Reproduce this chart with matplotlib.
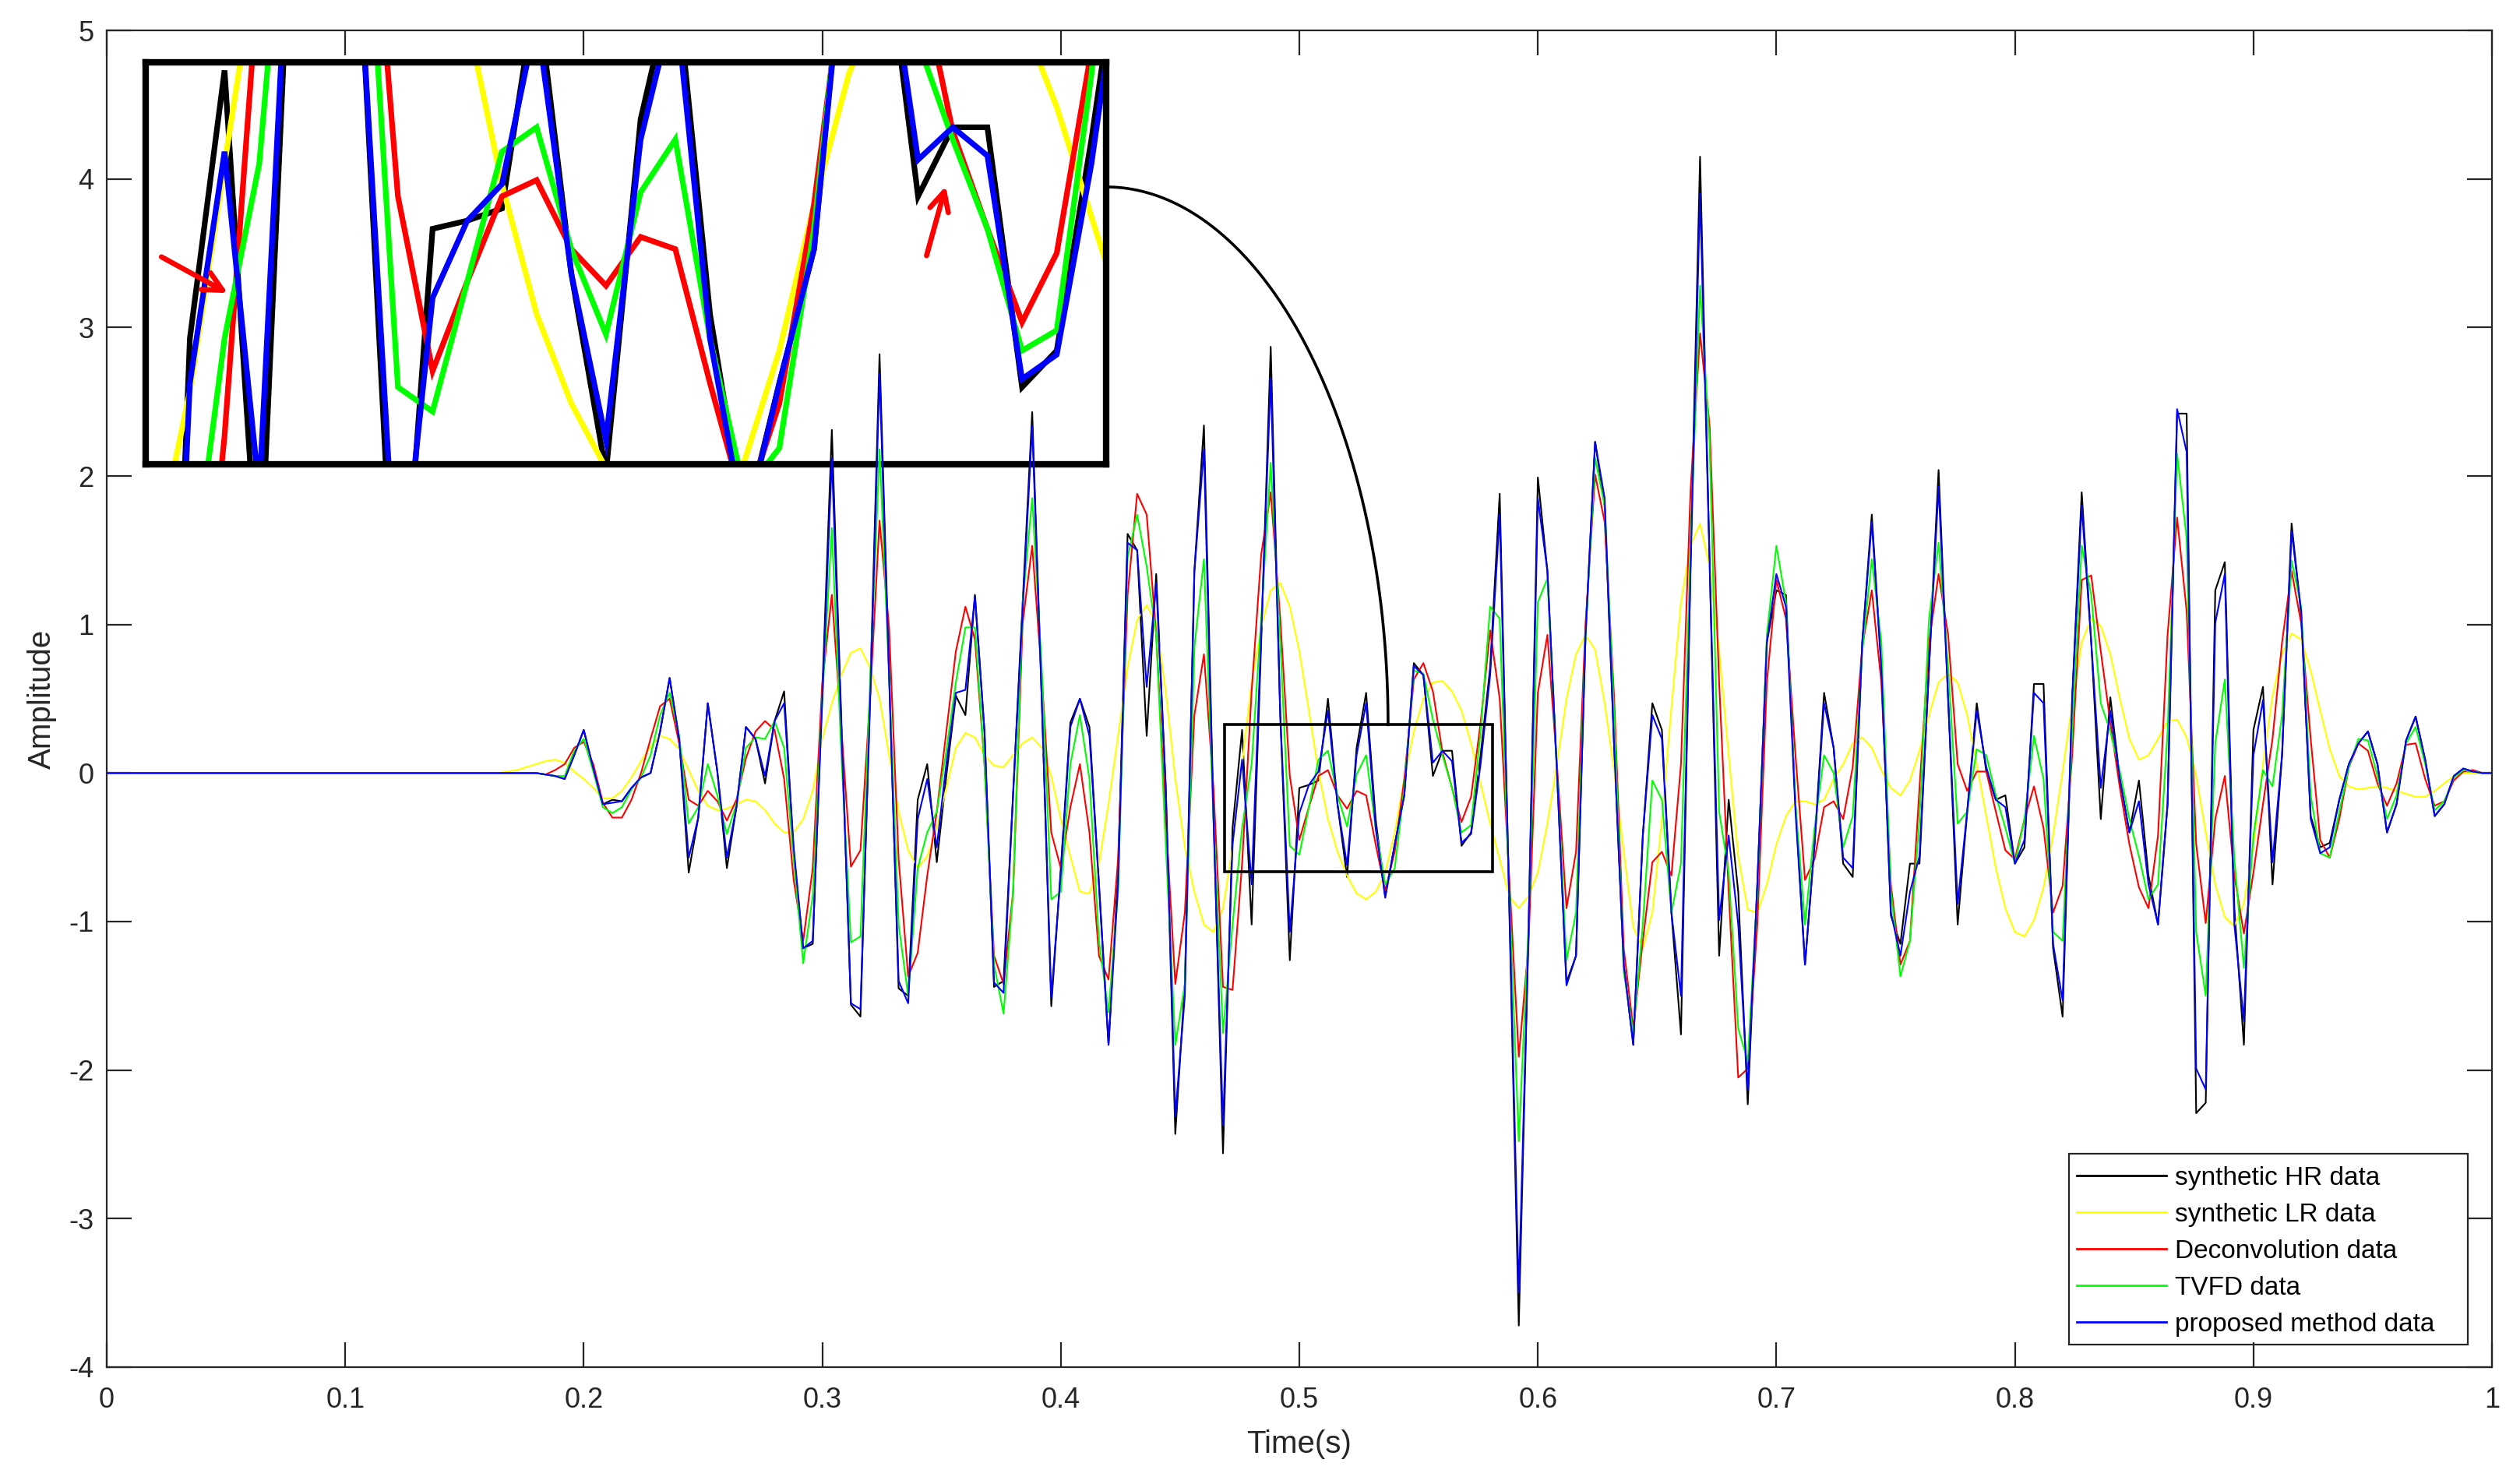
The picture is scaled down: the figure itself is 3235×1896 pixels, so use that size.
import numpy as np
import matplotlib
matplotlib.use("Agg")
import matplotlib.pyplot as plt
from matplotlib.patches import Rectangle

plt.rcParams['font.family'] = ['Liberation Sans', 'DejaVu Sans']
plt.rcParams['axes.unicode_minus'] = False

# ---------------- data ----------------
dt = 0.004          # sample interval (s)
onset = 41          # samples 0..40 are flat zero in every trace
lead_zeros = [0.0] * onset

hr_data = [
    0, 0, 0, 0, 0, -0.01, -0.02, -0.04, 0.12, 0.29,
    0.03, -0.21, -0.18, -0.19, -0.10, -0.03, 0.00, 0.28, 0.64, 0.23,
    -0.67, -0.30, 0.47, 0.01, -0.64, -0.23, 0.31, 0.23, -0.07, 0.35,
    0.55, -0.53, -1.18, -1.15, 0.55, 2.31, 0.35, -1.56, -1.64, 0.50,
    2.82, 0.69, -1.45, -1.50, -0.18, 0.06, -0.60, -0.02, 0.52, 0.39,
    1.20, 0.28, -1.44, -1.40, -0.14, 1.15, 2.43, 0.50, -1.57, -0.64,
    0.34, 0.50, 0.31, -0.75, -1.83, -0.67, 1.61, 1.50, 0.25, 1.34,
    -0.10, -2.43, -1.42, 1.36, 2.34, -0.26, -2.56, -0.37, 0.29, -1.02,
    0.88, 2.87, 0.39, -1.26, -0.10, -0.08, -0.05, 0.50, -0.21, -0.70,
    0.17, 0.54, -0.31, -0.83, -0.48, -0.15, 0.74, 0.66, -0.02, 0.15,
    0.15, -0.49, -0.40, 0.12, 0.71, 1.88, -0.90, -3.72, -1.13, 1.99,
    1.36, 0.01, -1.41, -1.23, 0.93, 2.23, 1.80, 0.17, -1.29, -1.83,
    -0.42, 0.47, 0.29, -0.94, -1.76, 1.40, 4.15, 1.42, -1.23, -0.18,
    -0.80, -2.23, -0.75, 0.88, 1.23, 1.20, -0.21, -1.29, -0.48, 0.54,
    0.17, -0.61, -0.70, 0.88, 1.74, 0.71, -0.96, -1.15, -0.61, -0.61,
    0.71, 2.04, 0.50, -1.02, -0.26, 0.47, 0.01, -0.18, -0.15, -0.61,
    -0.50, 0.60, 0.60, -1.18, -1.64, 0.50, 1.89, 0.88, -0.31, 0.51,
    -0.04, -0.40, -0.05, -0.69, -1.02, -0.21, 2.42, 2.42, -2.29, -2.22,
    1.23, 1.42, -0.91, -1.83, 0.29, 0.58, -0.75, 0.12, 1.68, 1.07,
    -0.29, -0.50, -0.47, -0.18, 0.06, 0.20, 0.28, 0.06, -0.40, -0.21,
    0.22, 0.38, 0.09, -0.29, -0.21, -0.02, 0.03, 0.01, 0.00, 0.00,
]

lr_data = [
    0.00, 0.01, 0.02, 0.04, 0.06, 0.08, 0.09, 0.07, 0.01, -0.04,
    -0.10, -0.17, -0.17, -0.12, -0.03, 0.08, 0.18, 0.25, 0.23, 0.16,
    0.02, -0.12, -0.22, -0.25, -0.24, -0.21, -0.18, -0.19, -0.25, -0.34,
    -0.40, -0.40, -0.31, -0.12, 0.23, 0.47, 0.66, 0.81, 0.84, 0.71,
    0.50, 0.12, -0.26, -0.52, -0.64, -0.56, -0.37, -0.10, 0.17, 0.27,
    0.24, 0.12, 0.05, 0.04, 0.12, 0.20, 0.24, 0.17, -0.02, -0.31,
    -0.56, -0.80, -0.81, -0.61, -0.21, 0.25, 0.71, 1.03, 1.13, 1.01,
    0.55, -0.04, -0.50, -0.80, -1.02, -1.07, -0.91, -0.50, 0.06, 0.61,
    0.98, 1.23, 1.28, 1.12, 0.82, 0.42, 0.01, -0.31, -0.53, -0.69,
    -0.81, -0.85, -0.80, -0.67, -0.40, -0.04, 0.28, 0.50, 0.61, 0.62,
    0.55, 0.42, 0.20, -0.07, -0.34, -0.58, -0.83, -0.91, -0.83, -0.67,
    -0.34, 0.06, 0.50, 0.80, 0.93, 0.83, 0.47, 0.01, -0.53, -1.04,
    -1.18, -0.94, -0.31, 0.44, 1.15, 1.53, 1.68, 1.39, 0.82, 0.12,
    -0.56, -0.92, -0.94, -0.75, -0.48, -0.29, -0.19, -0.19, -0.21, -0.18,
    -0.04, 0.06, 0.20, 0.24, 0.17, 0.02, -0.10, -0.15, -0.05, 0.15,
    0.39, 0.61, 0.67, 0.61, 0.39, 0.06, -0.29, -0.64, -0.91, -1.07,
    -1.10, -0.99, -0.77, -0.42, 0.01, 0.47, 0.88, 1.04, 0.99, 0.80,
    0.50, 0.23, 0.09, 0.12, 0.23, 0.35, 0.36, 0.24, -0.02, -0.40,
    -0.75, -0.97, -1.03, -0.88, -0.48, 0.06, 0.52, 0.80, 0.94, 0.90,
    0.69, 0.42, 0.16, -0.02, -0.09, -0.11, -0.10, -0.09, -0.10, -0.12,
    -0.14, -0.16, -0.16, -0.12, -0.07, -0.02, 0.00, 0.00, 0.00, 0.00,
]

deconv_data = [
    0, 0, 0, 0, 0, -0.01, 0.02, 0.06, 0.17, 0.21,
    0.06, -0.20, -0.30, -0.30, -0.18, 0.00, 0.23, 0.45, 0.50, 0.20,
    -0.18, -0.22, -0.12, -0.19, -0.32, -0.18, 0.10, 0.28, 0.35, 0.29,
    -0.04, -0.72, -1.13, -0.64, 0.61, 1.20, 0.30, -0.63, -0.52, 0.50,
    1.70, 0.98, -0.58, -1.37, -1.21, -0.69, -0.26, 0.28, 0.82, 1.12,
    0.90, 0.06, -1.23, -1.42, -0.80, 1.01, 1.53, 0.66, -0.40, -0.64,
    -0.23, 0.06, -0.40, -1.23, -1.39, -0.58, 1.20, 1.88, 1.74, 0.93,
    -0.31, -1.42, -0.94, 0.39, 0.80, -0.10, -1.44, -1.46, -0.61, 0.55,
    1.47, 1.89, 1.04, -0.02, -0.45, -0.23, -0.02, 0.02, -0.15, -0.24,
    -0.12, -0.15, -0.48, -0.79, -0.53, -0.04, 0.63, 0.74, 0.55, 0.14,
    -0.10, -0.33, -0.16, 0.34, 0.96, 0.50, -0.70, -1.91, -1.18, 0.54,
    0.93, 0.06, -0.91, -0.53, 1.01, 2.01, 1.69, 0.50, -1.18, -1.72,
    -1.13, -0.60, -0.53, -0.69, 0.06, 1.90, 2.96, 2.34, 0.61, -0.80,
    -2.05, -1.99, -1.02, 0.61, 1.30, 1.04, 0.12, -0.72, -0.58, -0.23,
    -0.19, -0.31, 0.04, 0.85, 1.23, 0.61, -0.75, -1.29, -1.13, -0.10,
    0.88, 1.34, 0.93, 0.06, -0.12, 0.01, 0.01, -0.26, -0.52, -0.58,
    -0.31, -0.09, -0.37, -0.94, -0.76, 0.12, 1.30, 1.33, 0.82, 0.34,
    -0.10, -0.48, -0.77, -0.91, -0.42, 0.93, 1.72, 1.09, -0.48, -1.01,
    -0.31, -0.02, -0.69, -1.08, -0.67, -0.21, 0.23, 0.88, 1.36, 1.01,
    0.23, -0.45, -0.57, -0.31, 0.04, 0.20, 0.15, -0.07, -0.22, -0.07,
    0.19, 0.20, -0.04, -0.22, -0.19, -0.05, 0.01, 0.02, 0.00, 0.00,
]

tvfd_data = [
    0, 0, 0, 0, 0, -0.01, -0.02, -0.02, 0.15, 0.23,
    0.01, -0.23, -0.27, -0.23, -0.11, -0.03, 0.12, 0.39, 0.54, 0.25,
    -0.34, -0.23, 0.06, -0.15, -0.41, -0.21, 0.17, 0.24, 0.23, 0.35,
    0.17, -0.58, -1.28, -0.83, 0.50, 1.65, 0.12, -1.14, -1.10, 0.60,
    2.18, 0.66, -1.02, -1.50, -0.64, -0.40, -0.26, 0.15, 0.61, 0.98,
    0.98, 0.06, -1.29, -1.62, -0.80, 1.15, 1.85, 0.71, -0.85, -0.80,
    0.06, 0.39, -0.04, -1.13, -1.61, -0.80, 1.45, 1.74, 1.39, 0.93,
    -0.48, -1.83, -1.42, 0.85, 1.44, -0.31, -1.75, -1.02, -0.37, 0.06,
    1.04, 2.09, 0.88, -0.49, -0.55, -0.23, 0.09, 0.15, -0.15, -0.36,
    -0.01, 0.12, -0.37, -0.75, -0.64, -0.10, 0.69, 0.67, 0.36, 0.12,
    -0.10, -0.40, -0.35, 0.28, 1.12, 1.04, -0.80, -2.48, -1.07, 1.15,
    1.31, 0.01, -1.26, -0.94, 0.93, 2.12, 1.80, 0.39, -1.34, -1.75,
    -1.02, -0.05, -0.18, -0.94, -0.61, 1.53, 3.28, 2.23, -0.26, -0.67,
    -1.72, -1.94, -0.80, 0.93, 1.53, 1.15, -0.21, -1.02, -0.37, 0.12,
    0.00, -0.50, -0.29, 0.82, 1.44, 0.88, -0.80, -1.37, -1.13, -0.31,
    1.04, 1.55, 0.71, -0.34, -0.26, 0.16, 0.12, -0.15, -0.37, -0.61,
    -0.31, 0.25, -0.04, -1.07, -1.13, 0.28, 1.53, 1.20, 0.47, 0.28,
    0.01, -0.31, -0.56, -0.85, -0.75, 0.28, 2.15, 1.58, -1.07, -1.50,
    0.20, 0.63, -0.58, -1.31, -0.42, 0.02, -0.09, 0.39, 1.43, 1.12,
    -0.15, -0.54, -0.57, -0.26, 0.04, 0.23, 0.22, -0.02, -0.31, -0.15,
    0.20, 0.31, 0.06, -0.25, -0.19, -0.03, 0.02, 0.01, 0.00, 0.00,
]

proposed_data = [
    0, 0, 0, 0, 0, -0.01, -0.02, -0.04, 0.12, 0.29,
    0.03, -0.21, -0.20, -0.19, -0.10, -0.03, 0.00, 0.28, 0.64, 0.23,
    -0.57, -0.30, 0.47, 0.01, -0.57, -0.23, 0.31, 0.23, -0.02, 0.35,
    0.47, -0.50, -1.18, -1.13, 0.50, 2.12, 0.30, -1.55, -1.59, 0.45,
    2.69, 0.65, -1.40, -1.55, -0.31, -0.04, -0.50, 0.06, 0.54, 0.56,
    1.19, 0.28, -1.41, -1.48, -0.14, 1.10, 2.34, 0.50, -1.51, -0.67,
    0.31, 0.50, 0.25, -0.75, -1.83, -0.75, 1.55, 1.50, 0.58, 1.28,
    -0.10, -2.31, -1.50, 1.36, 2.18, -0.31, -2.37, -0.48, 0.09, -0.75,
    0.93, 2.66, 0.39, -1.07, -0.27, -0.08, 0.01, 0.42, -0.21, -0.62,
    0.12, 0.47, -0.37, -0.84, -0.48, -0.15, 0.72, 0.66, 0.07, 0.15,
    0.08, -0.47, -0.41, 0.06, 0.66, 1.74, -0.85, -3.50, -1.13, 1.85,
    1.36, 0.01, -1.43, -1.23, 0.93, 2.23, 1.85, 0.17, -1.29, -1.83,
    -0.42, 0.39, 0.23, -0.94, -1.50, 1.36, 3.90, 1.42, -0.99, -0.42,
    -1.02, -2.13, -0.75, 0.88, 1.34, 1.12, -0.26, -1.29, -0.48, 0.47,
    0.17, -0.57, -0.64, 0.88, 1.69, 0.71, -0.94, -1.23, -0.80, -0.56,
    0.71, 1.93, 0.50, -0.88, -0.26, 0.42, 0.04, -0.18, -0.23, -0.61,
    -0.45, 0.54, 0.47, -1.15, -1.53, 0.50, 1.80, 0.88, -0.10, 0.42,
    -0.04, -0.40, -0.19, -0.75, -1.02, -0.21, 2.45, 2.16, -1.99, -2.13,
    1.01, 1.34, -1.02, -1.67, 0.12, 0.49, -0.60, 0.12, 1.63, 1.09,
    -0.31, -0.54, -0.50, -0.18, 0.06, 0.20, 0.28, 0.06, -0.40, -0.21,
    0.22, 0.38, 0.09, -0.29, -0.21, -0.02, 0.03, 0.01, 0.00, 0.00,
]

series_labels = ["synthetic HR data", "synthetic LR data", "Deconvolution data",
                 "TVFD data", "proposed method data"]
series_colors = [(0, 0, 0), (1, 1, 0), (1, 0, 0), (0, 1, 0), (0, 0, 1)]

x_ticks = [0, 0.1, 0.2, 0.3, 0.4, 0.5, 0.6, 0.7, 0.8, 0.9, 1.0]
x_tick_labels = ["0", "0.1", "0.2", "0.3", "0.4", "0.5", "0.6", "0.7", "0.8", "0.9", "1"]
y_ticks = [-4, -3, -2, -1, 0, 1, 2, 3, 4, 5]
y_tick_labels = ["-4", "-3", "-2", "-1", "0", "1", "2", "3", "4", "5"]

# zoom region (main-axes box) and inset view limits
box_x = (0.4686, 0.581)
box_y = (-0.666, 0.325)
inset_xlim = (0.4669, 0.5777)
inset_ylim = (-0.68, 0.31)

# ---------------- figure ----------------
W, H = 3235, 1896
DPI = 200
fig = plt.figure(figsize=(W / DPI, H / DPI), dpi=DPI, facecolor='white')

def fig_rect(x0, y0, x1, y1):
    # pixel box (left, top, right, bottom) -> figure fraction rect
    return [x0 / W, 1 - y1 / H, (x1 - x0) / W, (y1 - y0) / H]

ax = fig.add_axes(fig_rect(137, 39, 3199, 1755), zorder=2)
ax.patch.set_alpha(0.0)
axin = fig.add_axes(fig_rect(187, 80, 1420, 596), zorder=1)
axin.set_facecolor('white')

all_series = [hr_data, lr_data, deconv_data, tvfd_data, proposed_data]
gray = (0.15, 0.15, 0.15)

for vals, lab, col in zip(all_series, series_labels, series_colors):
    y = np.concatenate([np.array(lead_zeros), np.array(vals, dtype=float)])
    t = np.arange(len(y)) * dt
    ax.plot(t, y, color=col, lw=0.75, label=lab)
    axin.plot(t, y, color=col, lw=2.6, solid_joinstyle='miter')

ax.set_xlim(0, 1)
ax.set_ylim(-4, 5)
ax.set_xticks(x_ticks)
ax.set_xticklabels(x_tick_labels)
ax.set_yticks(y_ticks)
ax.set_yticklabels(y_tick_labels)
ax.tick_params(direction='in', length=11.5, width=0.8, top=True, right=True,
               labelsize=13, colors=gray, labelcolor=gray)
ax.tick_params(axis='x', pad=9)
ax.tick_params(axis='y', pad=6)
for sp in ax.spines.values():
    sp.set_color(gray)
    sp.set_linewidth(0.8)

ax.set_xlabel("Time(s)", fontsize=14.5, color=gray)
ax.set_ylabel("Amplitude", fontsize=14.5, color=gray)
ax.xaxis.set_label_coords(0.5, -0.0466)
ax.yaxis.set_label_coords(-0.0209, 0.5)

# zoom box in main axes
ax.add_patch(Rectangle((box_x[0], box_y[0]), box_x[1] - box_x[0], box_y[1] - box_y[0],
                       fill=False, ec='black', lw=1.3, zorder=3))

# curved connector from inset edge to box top (quarter ellipse)
conn_start = (0.419, 3.946)
conn_end = (0.5372, box_y[1])
theta = np.linspace(np.pi / 2, 0, 200)
cx, cy = conn_start[0], conn_end[1]
a, b = conn_end[0] - conn_start[0], conn_start[1] - conn_end[1]
ax.plot(cx + a * np.cos(theta), cy + b * np.sin(theta), color='black', lw=1.3, zorder=3)

# inset styling
axin.set_xlim(*inset_xlim)
axin.set_ylim(*inset_ylim)
axin.set_xticks([])
axin.set_yticks([])
for sp in axin.spines.values():
    sp.set_color('black')
    sp.set_linewidth(3.0)

# red arrows in inset
arrow_kw = dict(arrowstyle='->', color='red', lw=2.4, mutation_scale=22, shrinkA=0, shrinkB=0)
axin.annotate('', xy=(0.0854, 0.426), xytext=(0.0164, 0.516),
              xycoords='axes fraction', textcoords='axes fraction', arrowprops=arrow_kw, zorder=10)
axin.annotate('', xy=(0.833, 0.692), xytext=(0.813, 0.519),
              xycoords='axes fraction', textcoords='axes fraction', arrowprops=arrow_kw, zorder=10)

# legend
leg = ax.legend(loc='upper left', bbox_to_anchor=(2666 / W, 1 - 1497 / H),
                bbox_transform=fig.transFigure, frameon=False, fontsize=12,
                handlelength=3.45, handletextpad=0.33, labelspacing=0.48,
                borderpad=0, borderaxespad=0)
for txt in leg.get_texts():
    txt.set_color('black')
for ln in leg.get_lines():
    ln.set_linewidth(1.0)
fig.add_artist(Rectangle((2656 / W, 1 - 1726 / H), 512 / W, 245 / H,
                         transform=fig.transFigure, fill=False, ec=gray, lw=0.8, zorder=5))

fig.savefig("out.png", dpi=DPI, facecolor='white')
